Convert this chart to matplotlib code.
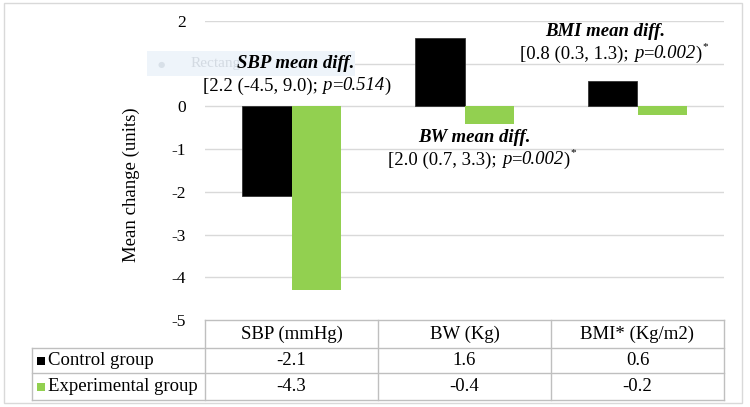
import matplotlib
matplotlib.use("Agg")
import matplotlib.pyplot as plt
from matplotlib.lines import Line2D
from matplotlib.patches import Rectangle

categories = ["SBP (mmHg)", "BW (Kg)", "BMI* (Kg/m2)"]
series_names = ["Control group", "Experimental group"]
control = [-2.1, 1.6, 0.6]
experimental = [-4.3, -0.4, -0.2]
y_ticks = [2, 1, 0, -1, -2, -3, -4, -5]

diff_titles = ["SBP mean diff.", "BW mean diff.", "BMI mean diff."]
diff_ci = ["[2.2 (-4.5, 9.0); ", "[2.0 (0.7, 3.3); ", "[0.8 (0.3, 1.3); "]
diff_p = ["0.514", "0.002", "0.002"]
diff_sig = [False, True, True]

W, H = 750, 407
BLACK = "#000000"
GREEN = "#92D050"
GRID = "#D9D9D9"
BORDER = "#BFBFBF"
FS = 13.5

plt.rcParams["font.family"] = ["Liberation Serif", "DejaVu Serif"]

fig = plt.figure(figsize=(W / 100, H / 100), dpi=100)
renderer = fig.canvas.get_renderer()


def fx(px):
    return px / W


def fy(py):
    return 1 - py / H


def rich_text(cx, cy, pieces, fontsize):
    # pieces: (text, style, dy_px, size_scale); laid out left to right, centred on cx
    arts = []
    for txt, style, dy, sc in pieces:
        t = fig.text(0, fy(cy + dy), txt, ha="left", va="center", fontsize=fontsize * sc,
                     style=style)
        arts.append(t)
    widths = [a.get_window_extent(renderer).width for a in arts]
    xpos = cx - sum(widths) / 2
    for a, w in zip(arts, widths):
        a.set_x(fx(xpos))
        xpos += w


# plot area in pixels
left, right, top, bottom = 205, 724, 21, 320
ax = fig.add_axes([fx(left), fy(bottom), fx(right) - fx(left), fy(top) - fy(bottom)])
ax.set_xlim(-0.5, len(categories) - 0.5)
ax.set_ylim(-5, 2)
for s in ax.spines.values():
    s.set_visible(False)
ax.set_xticks([])
ax.set_yticks(y_ticks)
ax.set_yticklabels([str(t) for t in y_ticks], fontsize=12.5)
ax.tick_params(axis="y", length=0, pad=14)
for t in y_ticks[:-1]:
    ax.axhline(t, color=GRID, linewidth=1, zorder=0)

x = list(range(len(categories)))
bw = 0.285
ax.bar([i - bw / 2 for i in x], control, width=bw, color=BLACK, edgecolor="#333333",
       linewidth=0.6, zorder=2)
ax.bar([i + bw / 2 for i in x], experimental, width=bw, color=GREEN, zorder=2)

fig.text(fx(131), fy(185), "Mean change (units)", rotation=90, ha="center", va="center",
         fontsize=FS)

# faint leftover "Rectangle" box from the original figure (mostly hidden by the label)
fig.patches.append(Rectangle((fx(147), fy(76)), fx(208), 25 / H, transform=fig.transFigure,
                             facecolor="#EEF4FA", edgecolor="none", zorder=0))
fig.text(fx(158), fy(64), "\u25CF", color="#D8E0E8", fontsize=6, va="center",
         family="DejaVu Sans")
fig.text(fx(191), fy(64), "Rectang", color="#D3DAE2", fontsize=11, va="center")

# annotations
title_pos = [(296, 63), (474, 137), (605, 32)]
ci_pos = [(297, 86), (482, 160), (614, 54)]
for i in range(len(categories)):
    tx, ty = title_pos[i]
    fig.text(fx(tx), fy(ty), diff_titles[i], ha="center", va="center", fontsize=FS,
             fontweight="bold", style="italic")
    cx, cy = ci_pos[i]
    pieces = [(diff_ci[i], "normal", 0, 1), ("p", "italic", 0, 1), ("=", "normal", 0, 1),
              (diff_p[i], "italic", 0, 1), (")", "normal", 0, 1)]
    if diff_sig[i]:
        pieces.append(("*", "normal", -7, 0.6))
    rich_text(cx, cy, pieces, FS)

# data table below the plot
tab_left, col0 = 32, 205
row_y = [320, 348, 373, 400]
col_w = (right - left) / len(categories)
col_x = [left + col_w * k for k in range(len(categories) + 1)]


def hline(x0, x1, y):
    fig.add_artist(Line2D([fx(x0), fx(x1)], [fy(y), fy(y)], color=BORDER, linewidth=1))


def vline(xp, y0, y1):
    fig.add_artist(Line2D([fx(xp), fx(xp)], [fy(y0), fy(y1)], color=BORDER, linewidth=1))


hline(col0, right, row_y[0])
for yv in row_y[1:]:
    hline(tab_left, right, yv)
vline(tab_left, row_y[1], row_y[3])
for xv in col_x:
    vline(xv, row_y[0], row_y[3])

for k, cat in enumerate(categories):
    cx = (col_x[k] + col_x[k + 1]) / 2
    fig.text(fx(cx), fy((row_y[0] + row_y[1]) / 2), cat, ha="center", va="center", fontsize=FS)
    for r, vals in enumerate([control, experimental]):
        fig.text(fx(cx), fy((row_y[r + 1] + row_y[r + 2]) / 2), f"{vals[k]:.1f}",
                 ha="center", va="center", fontsize=FS)

for r, (name, col) in enumerate(zip(series_names, [BLACK, GREEN])):
    cy = (row_y[r + 1] + row_y[r + 2]) / 2
    fig.patches.append(Rectangle((fx(37), fy(cy + 4)), 8 / W, 8 / H, transform=fig.transFigure,
                                 facecolor=col, edgecolor="none"))
    fig.text(fx(48), fy(cy), name, ha="left", va="center", fontsize=FS)

# outer frame
fig.patches.append(Rectangle((fx(4), fy(403)), fx(738), 400 / H, transform=fig.transFigure,
                             facecolor="none", edgecolor="#D9D9D9", linewidth=1))

fig.savefig("out.png", dpi=100)
